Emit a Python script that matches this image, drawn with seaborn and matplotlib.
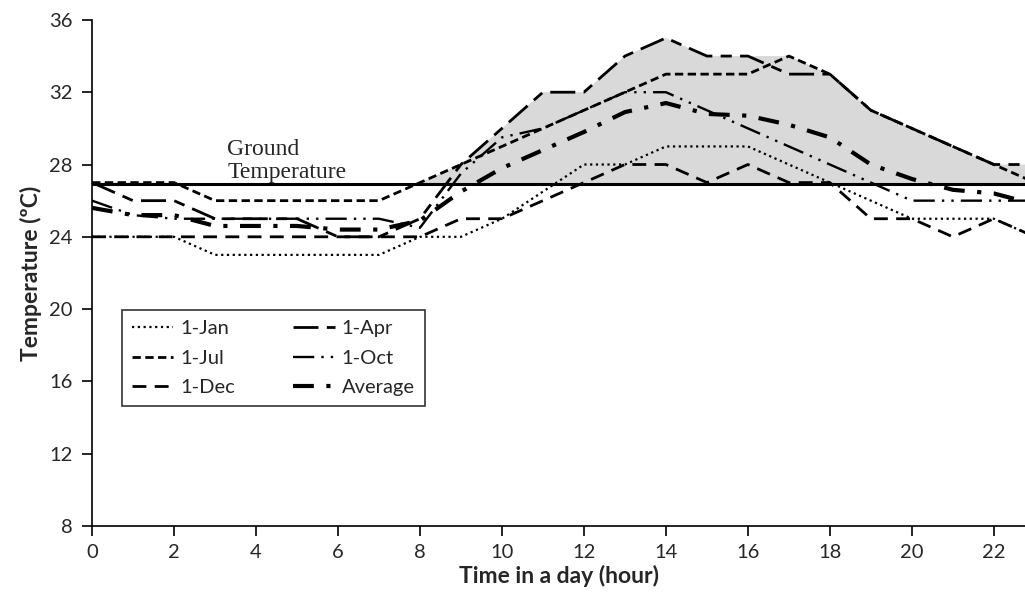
import numpy as np
import pandas as pd
import matplotlib
matplotlib.use("Agg")
import matplotlib.pyplot as plt
import seaborn as sns

# hourly temperatures
hours = list(range(24))
jan = [24, 24, 24, 23, 23, 23, 23, 23, 24, 24, 25, 26.5, 28, 28, 29, 29, 29, 28, 27, 26, 25, 25, 25, 24]
apr = [27, 26, 26, 25, 25, 25, 24, 24, 25, 28, 30, 32, 32, 34, 35, 34, 34, 33, 33, 31, 30, 29, 28, 28]
jul = [27, 27, 27, 26, 26, 26, 26, 26, 27, 28, 29, 30, 31, 32, 33, 33, 33, 34, 33, 31, 30, 29, 28, 27]
oct_ = [26, 25.2, 25, 25, 25, 25, 25, 25, 24.5, 27.5, 29.5, 30, 31, 32, 32, 31, 30, 29, 28, 27, 26, 26, 26, 26]
dec = [24, 24, 24, 24, 24, 24, 24, 24, 24, 25, 25, 26, 27, 28, 28, 27, 28, 27, 27, 25, 25, 24, 25, 24]
avg = [25.6, 25.2, 25.2, 24.6, 24.6, 24.6, 24.4, 24.4, 24.9, 26.5, 27.8, 28.8, 29.8, 30.9, 31.4, 30.8, 30.7, 30.2, 29.5, 28, 27.2, 26.6, 26.4, 25.8]
ground_temp = 26.9

series = [
    ("1-Jan", jan, (0, (1, 1.6)), 1.6),
    ("1-Jul", jul, (0, (3, 1.6)), 2.0),
    ("1-Dec", dec, (0, (5, 3)), 2.0),
    ("1-Apr", apr, (0, (9, 3, 4, 3)), 2.0),
    ("1-Oct", oct_, (0, (9, 3, 1, 3, 1, 3)), 1.7),
    ("Average", avg, (0, (5, 3, 1, 3)), 3.0),
]

sns.set_style("ticks")
plt.rcParams["font.family"] = ["Lato", "DejaVu Sans"]

fig = plt.figure(figsize=(10.25, 6.09), dpi=100)
ax = fig.add_axes([0.0898, 0.1363, 0.9102, 0.8310])

# grey band between ground line and the warmest curve
upper = np.max(np.array([jan, apr, jul, oct_, dec]), axis=0)
ax.fill_between(hours, ground_temp, upper, where=upper > ground_temp,
                interpolate=True, color="#d9d9d9", lw=0, zorder=1)
ax.axhline(ground_temp, color="black", lw=2.2, zorder=3)

for name, vals, ls, lw in series:
    sns.lineplot(x=hours, y=vals, ax=ax, color="black", linestyle=ls,
                 linewidth=lw, label=name, zorder=4)

ax.text(3.3, 26.98, "Ground\nTemperature", family="Liberation Serif",
        fontsize=17, ha="left", va="bottom", linespacing=1.1)

ax.set_xlim(0, 22.76)
ax.set_ylim(8, 36)
ax.set_xticks(range(0, 23, 2))
ax.set_yticks(range(8, 37, 4))
ax.tick_params(labelsize=14.5, length=7, width=1.2, color="black")
ax.tick_params(axis="y", pad=7)
ax.tick_params(axis="x", pad=6)
ax.set_xlabel("Time in a day (hour)", fontsize=16.5, fontweight="bold", labelpad=3)
ax.set_ylabel("Temperature (ºC)", fontsize=16.5, fontweight="bold", labelpad=5)
for s in ["top", "right"]:
    ax.spines[s].set_visible(False)
for s in ["left", "bottom"]:
    ax.spines[s].set_linewidth(1.2)
    ax.spines[s].set_color("black")

leg = ax.legend(ncol=2, loc="upper left", bbox_to_anchor=(0.032, 0.427),
                borderaxespad=0, fontsize=14.5, frameon=True, fancybox=False,
                edgecolor="black", handlelength=2.05, columnspacing=2.9,
                labelspacing=0.62, borderpad=0.5, handletextpad=0.35)
leg.get_frame().set_linewidth(1.2)

fig.savefig("out.png", dpi=100)
